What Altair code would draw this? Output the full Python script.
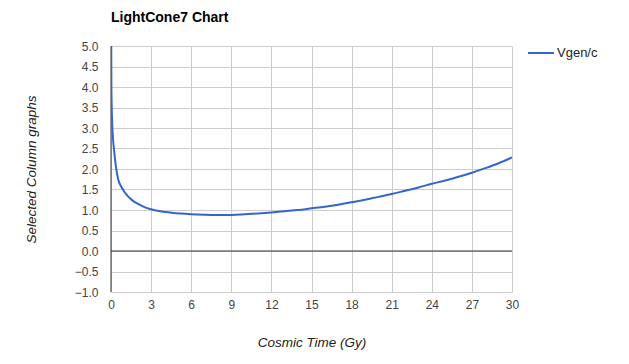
import altair as alt
import pandas as pd

# Cosmic time (Gy) and Vgen/c values
time_gy = [0.0, 0.03, 0.08, 0.15, 0.25, 0.37, 0.55, 0.75, 0.91, 1.15, 1.42, 1.7, 2.04,
           2.5, 3.0, 3.7, 4.5, 5.2, 6.0, 7.0, 7.8, 9.0, 10.0, 11.0, 12.0, 13.0, 14.0,
           15.0, 16.0, 17.0, 18.0, 19.0, 20.0, 21.0, 22.0, 23.0, 24.0, 25.0, 26.0,
           27.0, 28.0, 29.0, 30.0]
vgen_c = [6.5, 4.0, 3.2, 2.75, 2.4, 2.05, 1.73, 1.58, 1.49, 1.38, 1.285, 1.21, 1.146,
          1.07, 1.017, 0.97, 0.935, 0.912, 0.895, 0.883, 0.878, 0.88, 0.895, 0.915,
          0.94, 0.97, 1.0, 1.04, 1.08, 1.13, 1.19, 1.25, 1.32, 1.39, 1.47, 1.55, 1.64,
          1.72, 1.81, 1.91, 2.02, 2.14, 2.28]
series_name = ["Vgen/c"]
x_ticks = [0, 3, 6, 9, 12, 15, 18, 21, 24, 27, 30]
y_ticks = [-1.0, -0.5, 0.0, 0.5, 1.0, 1.5, 2.0, 2.5, 3.0, 3.5, 4.0, 4.5, 5.0]

df = pd.DataFrame({"t": time_gy, "v": vgen_c, "s": series_name * len(time_gy)})

FONT = "Liberation Sans"

x_scale = alt.Scale(domain=[0, 30], nice=False, zero=False)
y_scale = alt.Scale(domain=[-1, 5], nice=False, zero=False)

x_axis = alt.Axis(values=x_ticks, title="Cosmic Time (Gy)", format="d",
                  grid=True, gridColor="#cccccc", domain=False, ticks=False,
                  labelOverlap=False, labelFlush=False,
                  labelFont=FONT, labelFontSize=12, labelColor="#444444",
                  labelPadding=7, titleFont=FONT, titleFontSize=13.5,
                  titleFontStyle="italic", titleFontWeight="normal",
                  titleColor="#222222", titlePadding=25)
y_axis = alt.Axis(values=y_ticks, title="Selected Column graphs", format=".1f",
                  grid=True, gridColor="#cccccc", domain=False, ticks=False,
                  labelOverlap=False, labelFlush=False,
                  labelFont=FONT, labelFontSize=12, labelColor="#444444",
                  labelPadding=13, titleFont=FONT, titleFontSize=13.5,
                  titleFontStyle="italic", titleFontWeight="normal",
                  titleColor="#222222", titlePadding=36)

line = alt.Chart(df).mark_line(strokeWidth=2, clip=True, interpolate="monotone").encode(
    x=alt.X("t:Q", scale=x_scale, axis=x_axis),
    y=alt.Y("v:Q", scale=y_scale, axis=y_axis),
    color=alt.Color("s:N", scale=alt.Scale(domain=series_name, range=["#3366cc"]),
                    legend=alt.Legend(title=None, orient="none", legendX=416, legendY=-7,
                                      symbolType="stroke", symbolStrokeWidth=2,
                                      symbolSize=676, labelFont=FONT, labelFontSize=13,
                                      labelColor="#222222", labelOffset=2)),
)

zero_y = alt.Chart(pd.DataFrame({"y": [0.0]})).mark_rule(color="#333333", strokeWidth=1).encode(
    y=alt.Y("y:Q", scale=y_scale, axis=y_axis, title="Selected Column graphs"))
zero_x = alt.Chart(pd.DataFrame({"x": [0.0]})).mark_rule(color="#333333", strokeWidth=1).encode(
    x=alt.X("x:Q", scale=x_scale, axis=x_axis, title="Cosmic Time (Gy)"))

chart = alt.layer(zero_y, zero_x, line).properties(
    width=401, height=246,
    autosize=alt.AutoSizeParams(type="none"),
    padding={"left": 111, "top": 46, "right": 117, "bottom": 72},
    background="white",
    title=alt.TitleParams("LightCone7 Chart", anchor="start", frame="group",
                          font=FONT, fontSize=14, fontWeight="bold", color="#000000",
                          baseline="alphabetic", offset=3),
).configure_view(stroke=None)

chart.save("out.html", embed_options={"renderer": "svg", "actions": False})
